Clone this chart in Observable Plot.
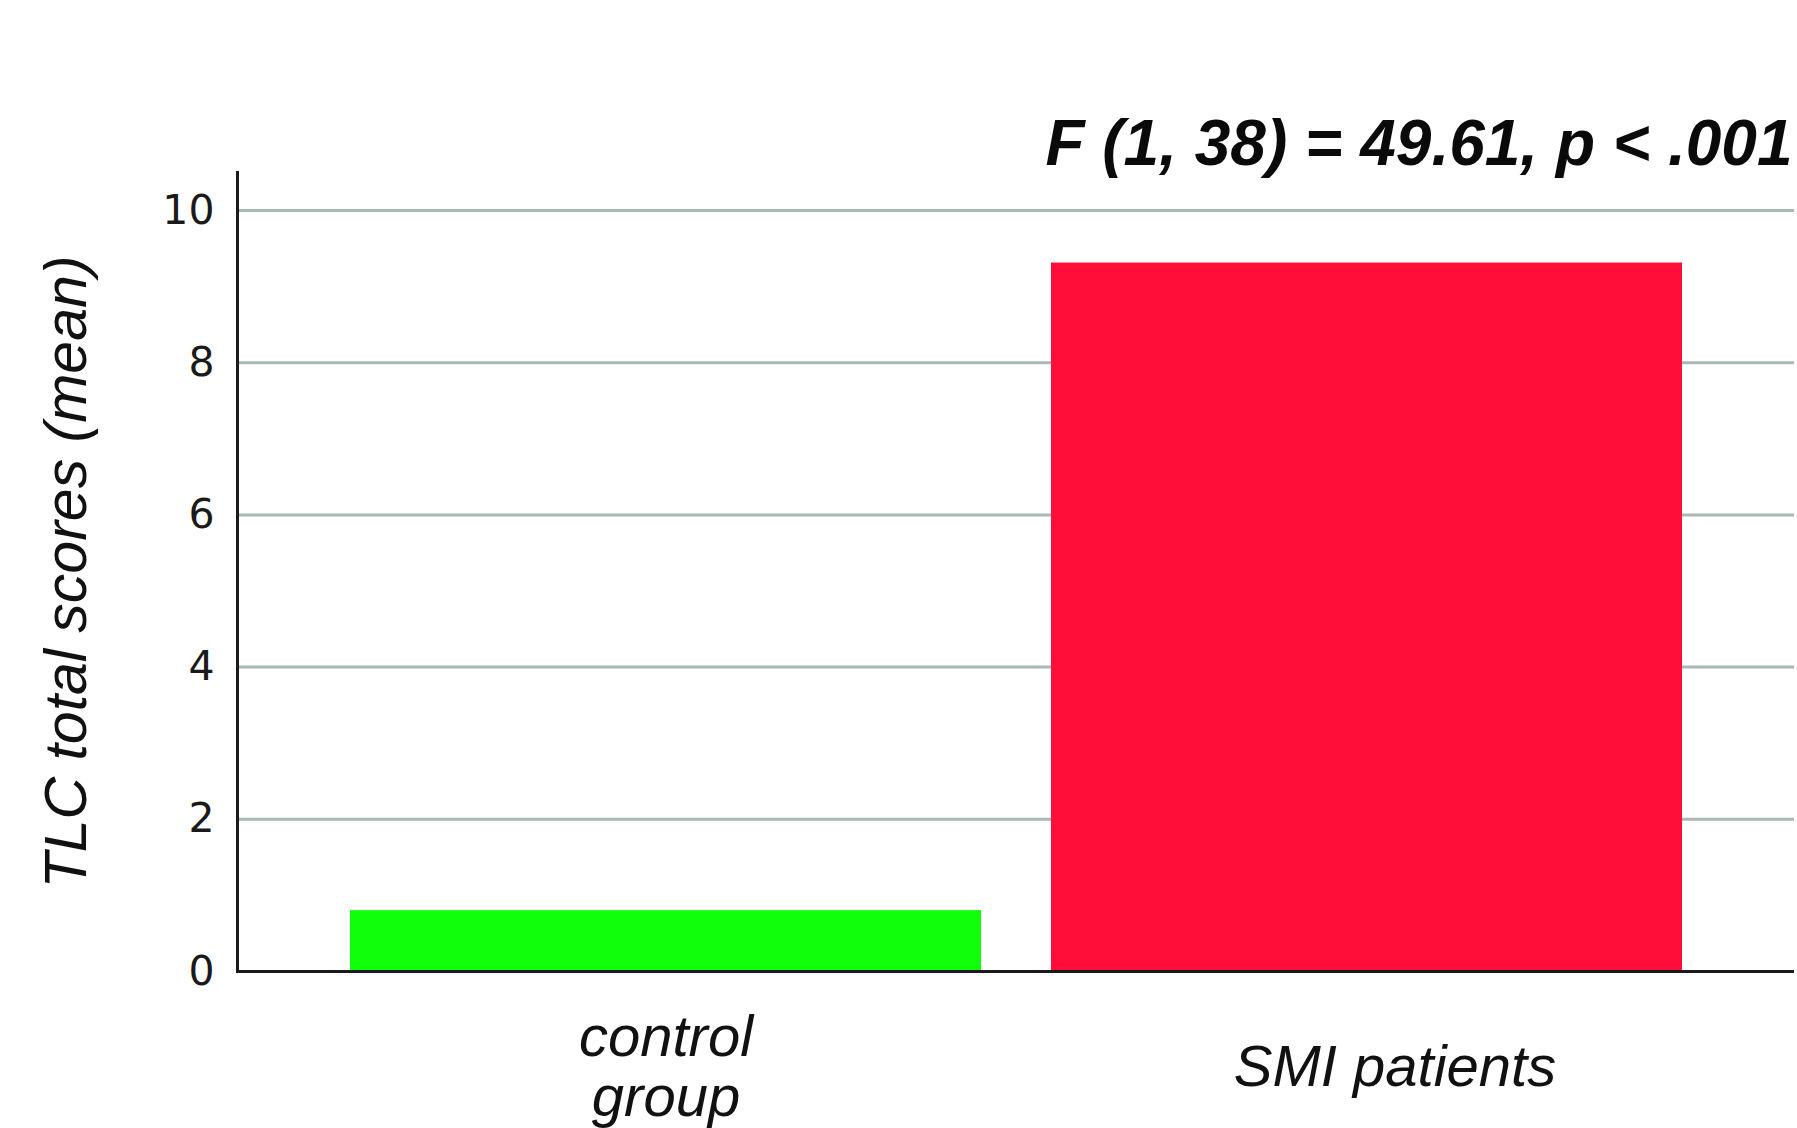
<!DOCTYPE html>
<html>
<head>
<meta charset="utf-8">
<script src="https://cdn.jsdelivr.net/npm/d3@7"></script>
<script src="https://cdn.jsdelivr.net/npm/@observablehq/plot@0.6"></script>
<style>
  html, body { margin: 0; padding: 0; background: #fff; }
  #chart svg { display: block; }
</style>
</head>
<body>
<div id="chart"></div>
<script>
// ---- data ----
const categories = ["control group", "SMI patients"];
const categoryLabels = ["control\ngroup", "SMI patients"];
const means = [0.80, 9.31];
const yTicks = [0, 2, 4, 6, 8, 10];
const yLabel = "TLC total scores (mean)";
const statLabel = "F (1, 38) = 49.61, p < .001";
const barColors = ["#10ff0b", "#ff0e39"];

const data = categories.map((c, i) => ({group: c, label: categoryLabels[i], value: means[i]}));

const plot = Plot.plot({
  width: 1797,
  height: 1128,
  marginLeft: 237,
  marginRight: 3,
  marginTop: 172,
  marginBottom: 157,
  style: {background: "#fff", color: "#1a1a1a"},
  x: {domain: categories, paddingInner: 0.1, paddingOuter: 0.16, axis: null},
  y: {domain: [0, 10.5]},
  color: {domain: categories, range: barColors},
  marks: [
    Plot.gridY(yTicks, {stroke: "#a8b8b5", strokeOpacity: 1, strokeWidth: 3}),
    Plot.barY(data, {x: "group", y: "value", fill: "group"}),
    Plot.ruleY([0], {stroke: "#1a1a1a", strokeWidth: 3}),
    Plot.frame({anchor: "left", stroke: "#1a1a1a", strokeWidth: 3}),
    Plot.axisY(yTicks, {
      tickSize: 0, tickPadding: 23, label: null, tickFormat: d3.format("d"),
      fontSize: 41, fontFamily: "DejaVu Sans", fill: "#1a1a1a"
    }),
    Plot.axisY({
      ticks: [], tickSize: 0, label: yLabel, labelAnchor: "center", labelArrow: "none",
      labelOffset: 193, fontSize: 59, fontStyle: "italic",
      fontFamily: "Liberation Sans, Arial, sans-serif", fill: "#111"
    }),
    Plot.text(data.filter((d, i) => i === 0), {
      x: "group", text: "label", frameAnchor: "bottom", dy: 95,
      lineAnchor: "middle", lineHeight: 1.05, fontSize: 58, fontStyle: "italic",
      fontFamily: "Liberation Sans, Arial, sans-serif", fill: "#111"
    }),
    Plot.text(data.filter((d, i) => i === 1), {
      x: "group", text: "label", frameAnchor: "bottom", dy: 95, dx: 28,
      lineAnchor: "middle", lineHeight: 1.05, fontSize: 58, fontStyle: "italic",
      fontFamily: "Liberation Sans, Arial, sans-serif", fill: "#111"
    }),
    Plot.text([statLabel], {
      text: d => d, frameAnchor: "top-right", lineAnchor: "bottom", dy: -8, dx: -2,
      fontSize: 64, fontWeight: "bold", fontStyle: "italic",
      fontFamily: "Liberation Sans, Arial, sans-serif", fill: "#0a0a0a"
    })
  ]
});

document.getElementById("chart").appendChild(plot);
</script>
</body>
</html>
